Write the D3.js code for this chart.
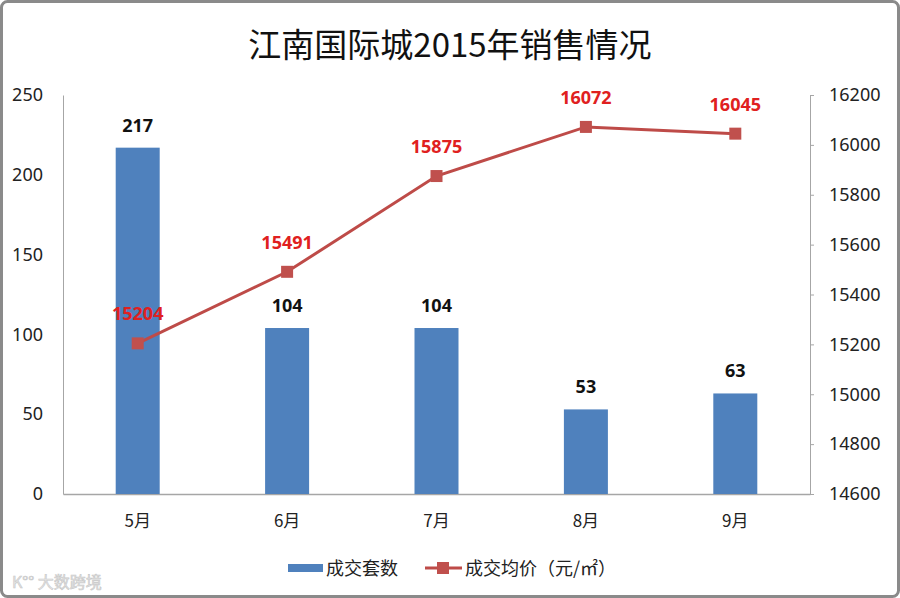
<!DOCTYPE html>
<html>
<head>
<meta charset="utf-8">
<script src="https://cdn.jsdelivr.net/npm/d3@7"></script>
<style>
body { margin: 0; background: #fff; }
svg text { font-family: "Noto Sans", "Noto Sans CJK SC", sans-serif; }
</style>
</head>
<body>
<div id="chart"></div>
<script>
const months = ['5月', '6月', '7月', '8月', '9月'];
const deals = [217, 104, 104, 53, 63];
const prices = [15204, 15491, 15875, 16072, 16045];
const leftTicks = [0, 50, 100, 150, 200, 250];
const rightTicks = [14600, 14800, 15000, 15200, 15400, 15600, 15800, 16000, 16200];

const width = 900, height = 598;
const plotLeft = 63, plotRight = 810, plotTop = 95, plotBottom = 494;
const cjk = '"Noto Sans CJK SC", sans-serif';

const svg = d3.select('#chart').append('svg').attr('width', width).attr('height', height);

// frame
svg.append('rect').attr('x', 1.5).attr('y', 1.5).attr('width', width - 3).attr('height', height - 3)
	.attr('rx', 6).attr('fill', '#fff').attr('stroke', '#8a8a8a').attr('stroke-width', 3);

svg.append('text').attr('x', 450).attr('y', 57).attr('text-anchor', 'middle')
	.style('font-family', cjk).style('font-size', '33px').attr('fill', '#111')
	.text('江南国际城2015年销售情况');

const x = d3.scaleBand().domain(months).range([plotLeft, plotRight]);
const yL = d3.scaleLinear().domain([0, 250]).range([plotBottom, plotTop]);
const yR = d3.scaleLinear().domain([14600, 16200]).range([plotBottom, plotTop]);

// left axis
const gL = svg.append('g').attr('transform', `translate(${plotLeft},0)`)
	.call(d3.axisLeft(yL).tickValues(leftTicks).tickSize(0).tickPadding(20));
gL.select('.domain').attr('stroke', '#a6a6a6');
gL.selectAll('text').style('font-size', '18px').attr('fill', '#222');

// right axis
const gR = svg.append('g').attr('transform', `translate(${plotRight},0)`)
	.call(d3.axisRight(yR).tickValues(rightTicks).tickFormat(d3.format('d')).tickSize(4).tickPadding(15));
gR.select('.domain').attr('stroke', '#a6a6a6');
gR.selectAll('line').attr('stroke', '#a6a6a6');
gR.selectAll('text').style('font-size', '18px').attr('fill', '#222');

// bottom axis
const gB = svg.append('g').attr('transform', `translate(0,${plotBottom})`)
	.call(d3.axisBottom(x).tickSize(0).tickPadding(21));
gB.select('.domain').attr('stroke', '#a6a6a6').attr('stroke-width', 1.5);
gB.selectAll('text').style('font-size', '17px').attr('fill', '#222').style('font-family', cjk);

// bars
const barW = 44;
svg.selectAll('.bar').data(deals).enter().append('rect')
	.attr('x', (d, i) => x(months[i]) + x.bandwidth() / 2 - barW / 2)
	.attr('y', (d) => yL(d))
	.attr('width', barW)
	.attr('height', (d) => yL(0) - yL(d))
	.attr('fill', '#4f81bd');

svg.selectAll('.barLabel').data(deals).enter().append('text')
	.attr('x', (d, i) => x(months[i]) + x.bandwidth() / 2)
	.attr('y', (d) => yL(d) - 16)
	.attr('text-anchor', 'middle')
	.style('font-size', '18px').style('font-weight', 'bold').attr('fill', '#111')
	.text((d) => d);

// line
const line = d3.line()
	.x((d, i) => x(months[i]) + x.bandwidth() / 2)
	.y((d) => yR(d));
svg.append('path').datum(prices).attr('d', line)
	.attr('fill', 'none').attr('stroke', '#be4b48').attr('stroke-width', 3);

svg.selectAll('.pt').data(prices).enter().append('rect')
	.attr('x', (d, i) => x(months[i]) + x.bandwidth() / 2 - 6)
	.attr('y', (d) => yR(d) - 6)
	.attr('width', 12).attr('height', 12)
	.attr('fill', '#c0504d');

svg.selectAll('.ptLabel').data(prices).enter().append('text')
	.attr('x', (d, i) => x(months[i]) + x.bandwidth() / 2)
	.attr('y', (d) => yR(d) - 23)
	.attr('text-anchor', 'middle')
	.style('font-size', '18px').style('font-weight', 'bold').attr('fill', '#e02020')
	.text((d) => d);

// legend
const lg = svg.append('g').attr('transform', 'translate(0,568)');
lg.append('rect').attr('x', 288).attr('y', -4).attr('width', 35).attr('height', 8).attr('fill', '#4f81bd');
lg.append('text').attr('x', 326).attr('y', 7).style('font-size', '18px').attr('fill', '#222')
	.style('font-family', cjk).text('成交套数');
lg.append('line').attr('x1', 425).attr('x2', 462).attr('y1', 0).attr('y2', 0)
	.attr('stroke', '#be4b48').attr('stroke-width', 3);
lg.append('rect').attr('x', 437).attr('y', -6).attr('width', 12).attr('height', 12).attr('fill', '#c0504d');
lg.append('text').attr('x', 465).attr('y', 7).style('font-size', '18px').attr('fill', '#222')
	.style('font-family', cjk).text('成交均价（元/㎡）');

// watermark
svg.append('text').attr('x', 12).attr('y', 588).style('font-size', '16px').attr('fill', '#e6e6e6')
	.attr('stroke', '#c8c8c8').attr('stroke-width', 0.6)
	.style('font-family', cjk).text('K°° 大数跨境');
</script>
</body>
</html>
